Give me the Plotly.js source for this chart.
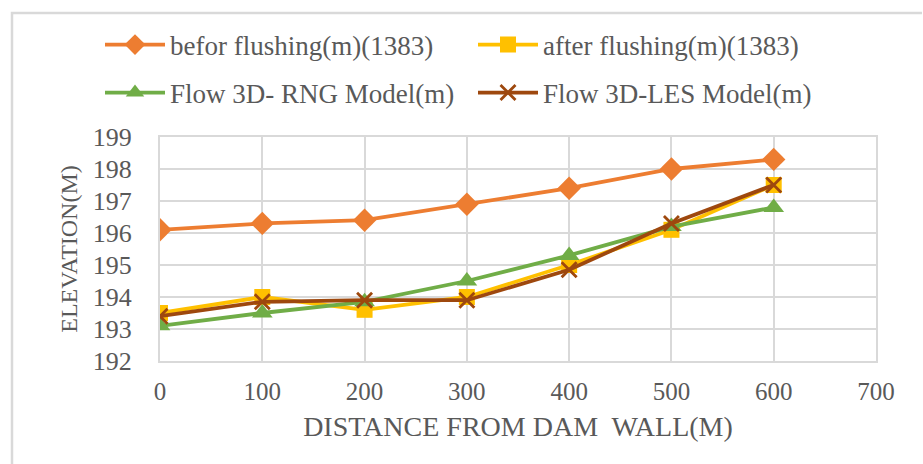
<!DOCTYPE html>
<html>
<head>
<meta charset="utf-8">
<script src="https://cdn.plot.ly/plotly-3.0.1.min.js"></script>
<style>html,body{margin:0;padding:0;background:#fff;} #chart{width:923px;height:464px;}</style>
</head>
<body>
<div id="chart"></div>
<script>
const distance = [0, 100, 200, 300, 400, 500, 600];
const beforFlushing = [196.1, 196.3, 196.4, 196.9, 197.4, 198.0, 198.3];
const afterFlushing = [193.5, 194.0, 193.6, 194.0, 195.0, 196.1, 197.5];
const rngModel = [193.1, 193.5, 193.85, 194.5, 195.3, 196.2, 196.8];
const lesModel = [193.4, 193.85, 193.9, 193.9, 194.85, 196.3, 197.5];
const seriesNames = ["befor flushing(m)(1383)", "after flushing(m)(1383)", "Flow 3D- RNG Model(m)", "Flow 3D-LES Model(m)"];
const xTicks = [0, 100, 200, 300, 400, 500, 600, 700];
const yTicks = [192, 193, 194, 195, 196, 197, 198, 199];

const font = "Liberation Serif, Times New Roman, serif";
const textColor = "#595959";

const traces = [
  {x: distance, y: beforFlushing, name: seriesNames[0], mode: "lines+markers", legend: "legend",
   line: {color: "#ED7D31", width: 3.8}, marker: {symbol: "diamond", size: 18, color: "#ED7D31"}},
  {x: distance, y: afterFlushing, name: seriesNames[1], mode: "lines+markers", legend: "legend",
   line: {color: "#FFC000", width: 3.8}, marker: {symbol: "square", size: 16, color: "#FFC000"}},
  {x: distance, y: rngModel, name: seriesNames[2], mode: "lines+markers", legend: "legend2",
   line: {color: "#70AD47", width: 3.8}, marker: {symbol: "triangle-up", size: 18, color: "#70AD47"}},
  {x: distance, y: lesModel, name: seriesNames[3], mode: "lines+markers", legend: "legend2",
   line: {color: "#9E480E", width: 3.8}, marker: {symbol: "x-thin", size: 15, color: "#9E480E", line: {color: "#9E480E", width: 2.8}}}
];

const plotL = 160, plotR = 876, plotT = 137, plotB = 361;
function legendRow(yPx) {
  return {
    orientation: "h", xref: "paper", yref: "paper",
    x: (100 - plotL) / (plotR - plotL), y: (plotB - yPx) / (plotB - plotT),
    xanchor: "left", yanchor: "middle",
    entrywidth: 298, entrywidthmode: "pixels",
    font: {family: font, size: 27, color: textColor},
    itemwidth: 60, traceorder: "normal", bgcolor: "rgba(0,0,0,0)"
  };
}

const layout = {
  width: 923, height: 464,
  margin: {l: plotL, r: 923 - plotR, t: plotT, b: 464 - plotB},
  paper_bgcolor: "#fff", plot_bgcolor: "#fff",
  font: {family: font, color: textColor, size: 24},
  showlegend: true,
  legend: legendRow(45),
  legend2: legendRow(93),
  xaxis: {
    range: [0, 700], tickvals: xTicks, ticktext: xTicks.map(String),
    showgrid: true, gridcolor: "#d9d9d9", gridwidth: 2,
    showline: true, mirror: true, linecolor: "#d9d9d9", linewidth: 2,
    zeroline: false, ticks: "", ticklen: 0, ticklabelstandoff: 7,
    tickfont: {family: font, size: 25, color: textColor},
    title: {text: "DISTANCE FROM DAM  WALL(M)", font: {family: font, size: 28, color: textColor}, standoff: 12}
  },
  yaxis: {
    range: [192, 199], tickvals: yTicks, ticktext: yTicks.map(String),
    showgrid: true, gridcolor: "#d9d9d9", gridwidth: 2,
    showline: true, mirror: true, linecolor: "#d9d9d9", linewidth: 2,
    zeroline: false, ticks: "", ticklen: 0, ticklabelstandoff: 21,
    tickfont: {family: font, size: 26, color: textColor},
    title: {text: "ELEVATION(M)", font: {family: font, size: 24, color: textColor}, standoff: 8}
  },
  shapes: [
    {type: "path", xref: "paper", yref: "paper",
     path: "M " + ((12-plotL)/(plotR-plotL)) + " " + (-(464-plotB)/(plotB-plotT) - 0.05) +
           " L " + ((12-plotL)/(plotR-plotL)) + " " + ((plotB-13)/(plotB-plotT)) +
           " L " + ((922-plotL)/(plotR-plotL)) + " " + ((plotB-13)/(plotB-plotT)),
     line: {color: "#d9d9d9", width: 2.5}}
  ]
};

Plotly.newPlot("chart", traces, layout, {displayModeBar: false, staticPlot: true});
</script>
</body>
</html>
